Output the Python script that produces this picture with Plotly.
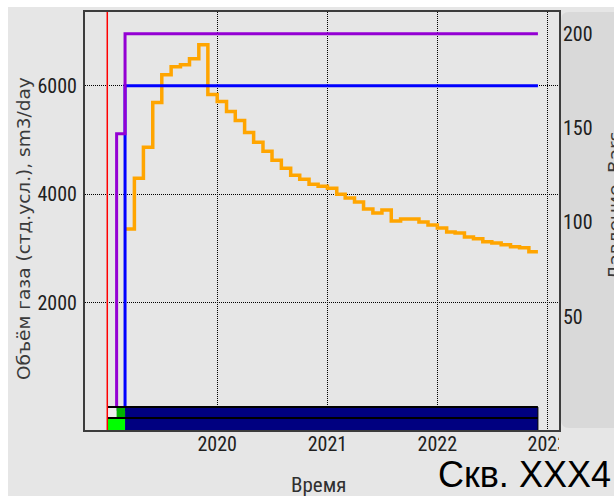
import pandas as pd
import plotly.graph_objects as go

# ---- data -------------------------------------------------------------
# monthly gas rate, sm3/day (step values, first day of each month)
rate_dates = pd.date_range("2019-03-01", "2022-12-01", freq="MS")
gas_rate = [
    3358, 4294, 4862, 5688, 6202, 6349, 6385, 6495, 6752, 5835,
    5707, 5524, 5358, 5138, 4955, 4790, 4624, 4477, 4349, 4276, 4184, 4147,
    4110, 4000, 3927, 3854, 3725, 3652, 3707, 3505, 3541, 3541, 3487, 3431,
    3376, 3303, 3285, 3211, 3175, 3120, 3101, 3065, 3028, 3009, 2936, 2936,
]

# gas rate limit, sm3/day
limit_dates = ["2019-03-01", "2019-03-01", "2022-12-01"]
gas_limit = [0, 6000, 6000]

# bottom-hole pressure, bars
pressure_dates = ["2019-02-01", "2019-02-01", "2019-03-01", "2022-12-01"]
pressure = [0, 147, 200, 200]

# well start marker
start_date = "2019-01-01"

# well status rows (start, end, status)
status_upper = [("2019-01-01", "2019-02-01", "idle"),
                ("2019-02-01", "2019-03-01", "prep"),
                ("2019-03-01", "2022-12-01", "work")]
status_lower = [("2019-01-01", "2019-03-01", "open"),
                ("2019-03-01", "2022-12-01", "work")]

year_ticks = ["2020-01-01", "2021-01-01", "2022-01-01", "2023-01-01"]
year_labels = ["2020", "2021", "2022", "2023"]
rate_ticks = [2000, 4000, 6000]
pressure_ticks = [50, 100, 150, 200]

# ---- styling ----------------------------------------------------------
W, H = 614, 496
L, R, T, B = 85, 559, 10, 430          # plot area in pixels
BG = "#e6e6e6"
PANEL = "#d9d9d9"
status_colors = {"idle": "#eeeeee", "prep": "#00b400",
                 "open": "#00ff00", "work": "#000080"}
TICK_FONT = dict(family="Roboto Condensed, Liberation Sans", size=20, color="#202020")
TITLE_FONT = dict(family="DejaVu Sans, Liberation Sans", size=18.5, color="#3a3a3a")


def px_x(px):
    return (px - L) / (R - L)


def px_y(py):
    return (B - py) / (B - T)


fig = go.Figure()

fig.add_trace(go.Scatter(x=rate_dates, y=gas_rate, mode="lines",
                         line=dict(color="#ffa500", width=3.5, shape="hv"),
                         hoverinfo="skip", showlegend=False))
fig.add_trace(go.Scatter(x=limit_dates, y=gas_limit, mode="lines",
                         line=dict(color="#0000ff", width=3, shape="hv"),
                         hoverinfo="skip", showlegend=False))
fig.add_trace(go.Scatter(x=pressure_dates, y=pressure, mode="lines", yaxis="y2",
                         line=dict(color="#9400d3", width=3, shape="hv"),
                         hoverinfo="skip", showlegend=False))

shapes = []
# figure background (thin white edge at top/left)
shapes.append(dict(type="rect", xref="paper", yref="paper", layer="below",
                   x0=px_x(8), x1=px_x(W + 5), y0=px_y(5), y1=px_y(H + 5),
                   fillcolor=BG, line=dict(width=0)))
# right axis panel with rounded left corners
x0p, x1p, y0p, y1p = px_x(561), px_x(W + 20), px_y(428), px_y(10)
rx, ry = 8 / (R - L), 8 / (B - T)
panel_path = (f"M {x0p + rx},{y1p} L {x1p},{y1p} L {x1p},{y0p} L {x0p + rx},{y0p} "
              f"Q {x0p},{y0p} {x0p},{y0p + ry} L {x0p},{y1p - ry} "
              f"Q {x0p},{y1p} {x0p + rx},{y1p} Z")
shapes.append(dict(type="path", xref="paper", yref="paper", layer="below",
                   path=panel_path, fillcolor=PANEL, line=dict(width=0)))

# status rows at the bottom of the plot
row_upper = (px_y(418), px_y(407))
row_lower = (px_y(430), px_y(418))
for rows, (ya, yb) in ((status_upper, row_upper), (status_lower, row_lower)):
    for s, e, st in rows:
        shapes.append(dict(type="rect", xref="x", yref="paper", layer="above",
                           x0=s, x1=e, y0=ya, y1=yb,
                           fillcolor=status_colors[st], line=dict(width=0)))
    shapes.append(dict(type="line", xref="x", yref="paper", layer="above",
                       x0=rows[0][0], x1=rows[-1][1], y0=yb, y1=yb,
                       line=dict(color="#000000", width=2)))
    shapes.append(dict(type="line", xref="x", yref="paper", layer="above",
                       x0=rows[-1][1], x1=rows[-1][1], y0=ya, y1=yb,
                       line=dict(color="#000000", width=1)))

# well start marker
shapes.append(dict(type="line", xref="x", yref="paper", layer="above",
                   x0=start_date, x1=start_date, y0=0, y1=1,
                   line=dict(color="#ff0000", width=1.5)))
# last year label is cut at the plot edge
shapes.append(dict(type="rect", xref="paper", yref="paper", layer="above",
                   x0=px_x(R), x1=px_x(W + 10), y0=px_y(460), y1=px_y(432),
                   fillcolor=BG, line=dict(width=0)))

annotations = [
    dict(text="Объём газа (стд.усл.), sm3/day", xref="paper", yref="paper",
         x=px_x(24), y=px_y(228), textangle=-90, showarrow=False,
         xanchor="center", yanchor="middle", font=TITLE_FONT),
    dict(text="Давление, Bars", xref="paper", yref="paper",
         x=px_x(614), y=px_y(205), textangle=-90, showarrow=False,
         xanchor="center", yanchor="middle", font=TITLE_FONT),
    dict(text="Время", xref="paper", yref="paper",
         x=px_x(318), y=px_y(485), showarrow=False,
         xanchor="center", yanchor="middle",
         font=dict(family=TICK_FONT["family"], size=21, color="#303030")),
    dict(text="Скв. XXX4", xref="paper", yref="paper",
         x=px_x(436), y=px_y(475), showarrow=False,
         xanchor="left", yanchor="middle",
         font=dict(family="Liberation Sans, Arial", size=36, color="#000000")),
]

grid = dict(showgrid=True, gridcolor="#000000", gridwidth=1, griddash="1px,1px")
border = dict(showline=True, linecolor="#3c3c3c", linewidth=2, mirror=True)

fig.update_layout(
    width=W, height=H,
    margin=dict(l=L, r=W - R, t=T, b=H - B, pad=0),
    paper_bgcolor="#ffffff", plot_bgcolor=BG,
    showlegend=False,
    xaxis=dict(type="date", range=["2018-10-19", "2023-02-09"],
               tickvals=year_ticks, ticktext=year_labels, ticks="",
               tickfont=TICK_FONT, zeroline=False, ticklabelstandoff=-5,
               **grid, **border),
    yaxis=dict(range=[-349, 7358], tickvals=rate_ticks,
               ticktext=[str(v) for v in rate_ticks], ticks="",
               tickfont=TICK_FONT, zeroline=False, ticklabelstandoff=2,
               **grid, **border),
    yaxis2=dict(range=[-10.2, 211.6], overlaying="y", side="right",
                tickvals=pressure_ticks, ticktext=[str(v) for v in pressure_ticks],
                ticks="", tickfont=TICK_FONT, showgrid=False, zeroline=False,
                showline=False, ticklabelstandoff=3),
    shapes=shapes,
    annotations=annotations,
)

fig.write_html("out.html")
